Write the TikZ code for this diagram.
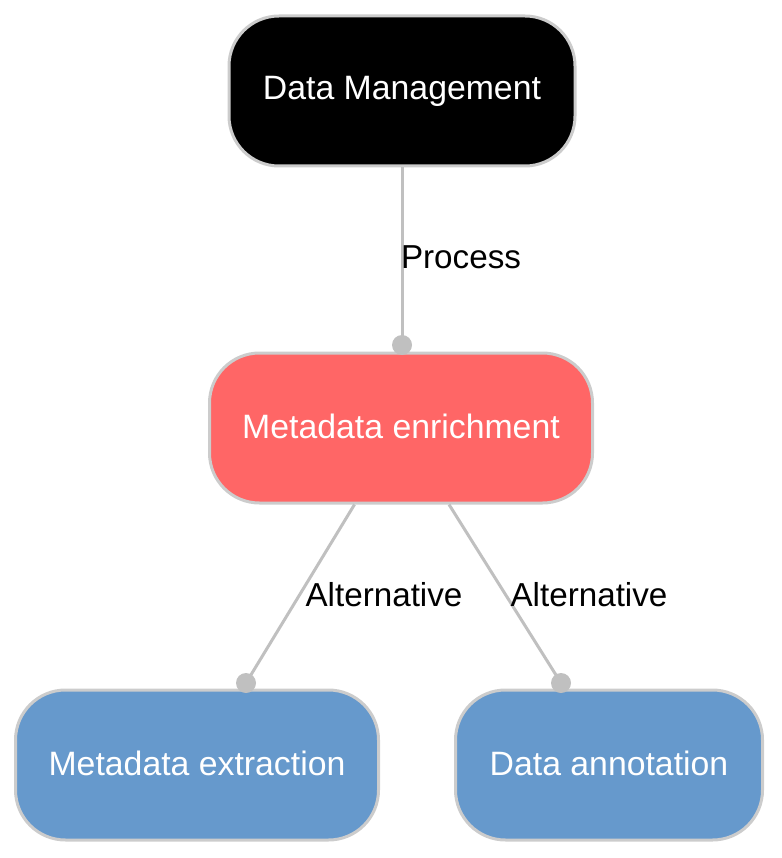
\documentclass[tikz,border=0pt]{standalone}
\usepackage{fontspec}
\setmainfont{Liberation Sans}
\definecolor{nodeborder}{HTML}{CCCCCC}
\definecolor{edgegray}{HTML}{C0C0C0}
\definecolor{redfill}{HTML}{FF6666}
\definecolor{bluefill}{HTML}{6699CC}
\begin{document}
\begin{tikzpicture}[x=1pt,y=-1pt,
  box/.style={draw=nodeborder, line width=3pt, rounded corners=50pt, minimum height=150pt, inner sep=0pt, text=white, font=\fontsize{33.8}{38}\selectfont},
  conn/.style={draw=edgegray, line width=3pt},
  dotend/.style={fill=edgegray},
  elabel/.style={font=\fontsize{33.2}{38}\selectfont, text=black, inner sep=0pt}]
\useasboundingbox (0,0) rectangle (781,858);
\node[box, fill=black, minimum width=346pt] (dm) at (402,91) {\raisebox{3pt}{Data Management}};
\node[box, fill=redfill, minimum width=383pt] (me) at (401,428) {\raisebox{3pt}{Metadata enrichment}};
\node[box, fill=bluefill, minimum width=363pt] (mx) at (197,765) {\raisebox{3pt}{Metadata extraction}};
\node[box, fill=bluefill, minimum width=307pt] (da) at (609,765) {\raisebox{3pt}{Data annotation}};
\coordinate (p1) at (402,345);
\coordinate (p2) at (246,683);
\coordinate (p3) at (561,683);
\draw[conn] (dm) -- (p1);
\draw[conn] (me) -- (p2);
\draw[conn] (me) -- (p3);
\fill[dotend] (p1) circle (10pt);
\fill[dotend] (p2) circle (10pt);
\fill[dotend] (p3) circle (10pt);
\node[elabel] (l1) at (461,257) {Process};
\node[elabel] (l2) at (384,595) {Alternative};
\node[elabel] (l3) at (589,595) {Alternative};
\end{tikzpicture}
\end{document}
